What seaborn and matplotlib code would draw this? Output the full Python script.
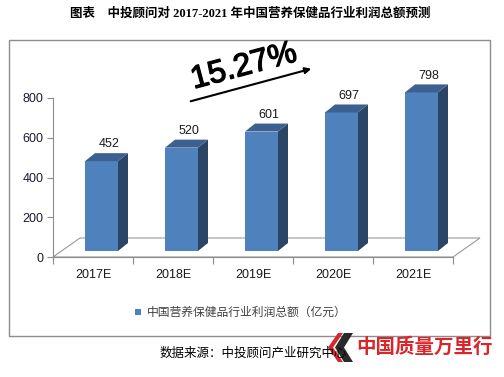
import matplotlib
matplotlib.use("Agg")
import matplotlib.pyplot as plt
import matplotlib.patheffects as pe
import seaborn as sns
import pandas as pd
from matplotlib.patches import Polygon, Rectangle

categories = ["2017E", "2018E", "2019E", "2020E", "2021E"]
values = [452, 520, 601, 697, 798]
series_name = "中国营养保健品行业利润总额（亿元）"
yticks = [0, 200, 400, 600, 800]
growth_label = "15.27%"

sns.set_theme(style="white")
plt.rcParams['font.family'] = ['Liberation Sans', 'Noto Sans CJK SC', 'DejaVu Sans']

W, H = 504, 377
fig = plt.figure(figsize=(W / 100, H / 100), dpi=100)
fig.patch.set_facecolor("white")

# outer frame
fig.patches.append(Rectangle((9 / W, 1 - 336 / H), 481 / W, (336 - 39.5) / H,
                             transform=fig.transFigure, fill=False,
                             edgecolor="#8c8c8c", linewidth=1.0))

ax = fig.add_axes([53 / W, 1 - 257 / H, 400 / W, 159 / H])
ax.set_facecolor("none")

FRONT = "#4f81bd"
TOP = "#3c6090"
SIDE = "#2b4566"

df = pd.DataFrame({"year": categories, "value": values})

# pixel -> data conversions
px_x = 5 / 400.0
px_y = 800 / 159.0

# floor
floor_dx, floor_dy = 27 * px_x, 19 * px_y
floor = Polygon([(-0.5, 0), (4.5, 0), (4.5 + floor_dx, floor_dy), (-0.5 + floor_dx, floor_dy)],
                closed=True, facecolor="white", edgecolor="#9a9a9a", linewidth=0.8,
                clip_on=False, zorder=1)
ax.add_patch(floor)

bar_w = 33 / 80.0
sns.barplot(data=df, x="year", y="value", color=FRONT, width=bar_w,
            saturation=1, ax=ax, zorder=3, edgecolor="none")

off_x, off_y = 8.5 * px_x, 6 * px_y
dep_x, dep_y = 10 * px_x, 8 * px_y
for i, p in enumerate(ax.patches[:]):
    if not isinstance(p, Rectangle) or p is floor:
        continue
    x0 = p.get_x() + off_x
    w = p.get_width()
    h = p.get_height()
    p.set_x(x0)
    p.set_y(off_y)
    p.set_clip_on(False)
    x1 = x0 + w
    top = off_y + h
    side = Polygon([(x1, off_y), (x1 + dep_x, off_y + dep_y), (x1 + dep_x, top + dep_y), (x1, top)],
                   closed=True, facecolor=SIDE, edgecolor="none", clip_on=False, zorder=3)
    topf = Polygon([(x0, top), (x0 + dep_x, top + dep_y), (x1 + dep_x, top + dep_y), (x1, top)],
                   closed=True, facecolor=TOP, edgecolor="none", clip_on=False, zorder=3)
    ax.add_patch(side)
    ax.add_patch(topf)

for i, v in enumerate(values):
    ax.text(i + 0.2, v + 115, str(v), ha="center", va="center", fontsize=9,
            color="#1a1a1a", clip_on=False)

ax.set_xlim(-0.5, 4.5)
ax.set_ylim(0, 800)
ax.set_yticks(yticks)
ax.set_yticklabels([str(t) for t in yticks], fontsize=9, color="#1a1a2e")
ax.set_xticks(range(len(categories)))
ax.set_xticklabels(categories, fontsize=9, color="#1a1a1a")
ax.set_xlabel("")
ax.set_ylabel("")

for s in ["top", "right"]:
    ax.spines[s].set_visible(False)
ax.spines["left"].set_color("#8c8c8c")
ax.spines["bottom"].set_color("#8c8c8c")
ax.spines["left"].set_linewidth(0.8)
ax.spines["bottom"].set_linewidth(0.8)
ax.tick_params(axis="y", which="major", left=True, length=4, width=0.8, color="#8c8c8c", pad=3)
ax.tick_params(axis="x", which="major", bottom=False, pad=3)
ax.set_xticks([-0.5, 0.5, 1.5, 2.5, 3.5, 4.5], minor=True)
ax.tick_params(axis="x", which="minor", bottom=True, length=5, width=0.8, color="#8c8c8c")

# growth annotation
t = fig.text(244 / W, 1 - 67 / H, growth_label, fontsize=23, rotation=15,
             ha="center", va="center", color="black", family=['Liberation Sans'])
t.set_path_effects([pe.withStroke(linewidth=0.9, foreground="black")])
fig.patches.append(matplotlib.patches.FancyArrowPatch(
    (188 / W, 1 - 102 / H), (314 / W, 1 - 68 / H), transform=fig.transFigure,
    arrowstyle="-|>", mutation_scale=9, color="black", linewidth=1.5))

# title
fig.text(250 / W, 1 - 13.5 / H, "图表　中投顾问对 2017-2021 年中国营养保健品行业利润总额预测",
         ha="center", va="center", fontsize=9, fontweight="bold", color="black",
         family=['Liberation Serif', 'Noto Sans CJK SC'])

# legend
fig.patches.append(Rectangle((135 / W, 1 - 315 / H), 6 / W, 6 / H, transform=fig.transFigure,
                             facecolor=FRONT, edgecolor="none"))
fig.text(147 / W, 1 - 312 / H, series_name, ha="left", va="center", fontsize=8.5,
         color="#404040", family=['Noto Sans CJK SC'])

# source
fig.text(160 / W, 1 - 353 / H, "数据来源：中投顾问产业研究中心", ha="left", va="center",
         fontsize=9, color="black", family=['Noto Sans CJK SC'])

# watermark logo
def fig_poly(pts, color):
    fig.patches.append(Polygon([(x / W, 1 - y / H) for x, y in pts], closed=True,
                               transform=fig.transFigure, facecolor=color, edgecolor="none"))

fig_poly([(343, 333), (338, 333), (328, 347.5), (338, 362), (343, 362), (333, 347.5)], "#d9262a")
fig_poly([(353, 333), (344, 333), (335, 347.5), (344, 362), (353, 362), (344, 347.5)], "#2a2a2a")
fig.text(424 / W, 1 - 347 / H, "中国质量万里行", ha="center", va="center",
         fontsize=14, fontweight="bold", color="#d9262a", family=['Noto Sans CJK SC'])

fig.savefig("out.png", dpi=100)
